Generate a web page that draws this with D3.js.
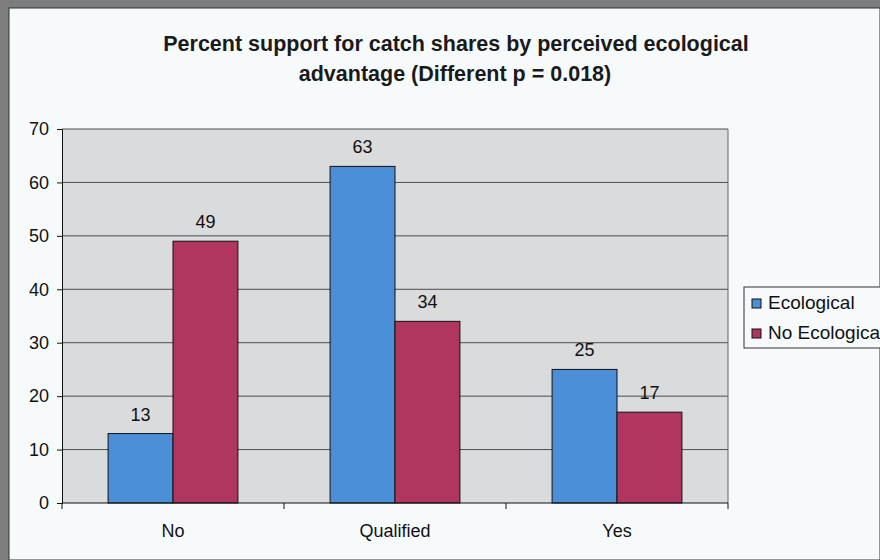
<!DOCTYPE html>
<html>
<head>
<meta charset="utf-8">
<script src="https://cdn.jsdelivr.net/npm/d3@7"></script>
<style>
  body { margin: 0; background: #7d7d7d; }
  svg { display: block; font-family: Arial, "Liberation Sans", sans-serif; }
</style>
</head>
<body>
<div id="chart"></div>
<script>
var categories = ["No", "Qualified", "Yes"];
var seriesNames = ["Ecological", "No Ecological"];
var ecological = [13, 63, 25];
var noEcological = [49, 34, 17];
var yTicks = [0, 10, 20, 30, 40, 50, 60, 70];
var colors = ["#4a8fd8", "#b0365f"];

var W = 880, H = 560;
var margin = {top: 129, left: 62, right: 152, bottom: 57};
var width = W - margin.left - margin.right,
    height = H - margin.top - margin.bottom;

var svg = d3.select("#chart").append("svg")
  .attr("width", W)
  .attr("height", H);

// scanned page look: gray strip top and left, white sheet
svg.append("rect").attr("width", W).attr("height", H).attr("fill", "#7d7d7d");
svg.append("rect")
  .attr("x", 9).attr("y", 8)
  .attr("width", W - 9).attr("height", H - 8)
  .attr("fill", "#f7fafb")
  .attr("stroke", "#333").attr("stroke-width", 1);

svg.append("text")
  .attr("x", 456).attr("y", 51)
  .attr("text-anchor", "middle")
  .attr("font-size", 21.5).attr("font-weight", "bold")
  .attr("fill", "#1a1a1a")
  .text("Percent support for catch shares by perceived ecological");
svg.append("text")
  .attr("x", 455).attr("y", 81)
  .attr("text-anchor", "middle")
  .attr("font-size", 21.5).attr("font-weight", "bold")
  .attr("fill", "#1a1a1a")
  .text("advantage (Different p = 0.018)");

var g = svg.append("g")
  .attr("transform", "translate(" + margin.left + "," + margin.top + ")");

var x = d3.scaleBand()
  .domain(categories)
  .range([0, width]);

var x1 = d3.scaleBand()
  .domain(seriesNames)
  .range([0, x.bandwidth()])
  .paddingInner(0)
  .paddingOuter(0.71);

var y = d3.scaleLinear()
  .domain([0, 70])
  .range([height, 0]);

g.append("rect")
  .attr("width", width).attr("height", height)
  .attr("fill", "#dadbdc");

g.selectAll("line.grid")
  .data(yTicks.slice(1))
  .enter().append("line")
    .attr("class", "grid")
    .attr("x1", 0).attr("x2", width)
    .attr("y1", d => y(d)).attr("y2", d => y(d))
    .attr("stroke", "#4d4d4d").attr("stroke-width", 1);

g.append("line")
  .attr("x1", width).attr("x2", width)
  .attr("y1", 0).attr("y2", height)
  .attr("stroke", "#666").attr("stroke-width", 1);

var data = categories.map(function(c, i) {
  return {cat: c, values: [
    {name: seriesNames[0], v: ecological[i], k: 0},
    {name: seriesNames[1], v: noEcological[i], k: 1}
  ]};
});

var groups = g.selectAll("g.cat")
  .data(data)
  .enter().append("g")
    .attr("class", "cat")
    .attr("transform", d => "translate(" + x(d.cat) + ",0)");

groups.selectAll("rect")
  .data(d => d.values)
  .enter().append("rect")
    .attr("x", d => x1(d.name))
    .attr("y", d => y(d.v))
    .attr("width", x1.bandwidth())
    .attr("height", d => height - y(d.v))
    .attr("fill", d => colors[d.k])
    .attr("stroke", "#111").attr("stroke-width", 1);

groups.selectAll("text")
  .data(d => d.values)
  .enter().append("text")
    .attr("x", d => x1(d.name) + x1.bandwidth() / 2)
    .attr("y", d => y(d.v) - 13)
    .attr("text-anchor", "middle")
    .attr("font-size", 18)
    .attr("fill", "#111")
    .text(d => d.v);

var yAxis = d3.axisLeft(y)
  .tickValues(yTicks)
  .tickSize(5)
  .tickPadding(8);

var yg = g.append("g").call(yAxis);
yg.select(".domain").attr("stroke", "#111");
yg.selectAll(".tick line").attr("stroke", "#111");
yg.selectAll(".tick text").attr("font-size", 18).attr("fill", "#111")
  .attr("font-family", "Arial, 'Liberation Sans', sans-serif");

var xg = g.append("g").attr("transform", "translate(0," + height + ")");
xg.append("line")
  .attr("x1", 0).attr("x2", width)
  .attr("stroke", "#111");
xg.selectAll("line.tick")
  .data(d3.range(categories.length + 1))
  .enter().append("line")
    .attr("class", "tick")
    .attr("x1", d => d * x.step()).attr("x2", d => d * x.step())
    .attr("y1", 0).attr("y2", 6)
    .attr("stroke", "#111");
xg.selectAll("text")
  .data(categories)
  .enter().append("text")
    .attr("x", d => x(d) + x.bandwidth() / 2)
    .attr("y", 34)
    .attr("text-anchor", "middle")
    .attr("font-size", 18)
    .attr("fill", "#111")
    .text(d => d);

// legend
var legend = svg.append("g").attr("transform", "translate(744,287)");
legend.append("rect")
  .attr("width", 160).attr("height", 61)
  .attr("fill", "#f7fafb")
  .attr("stroke", "#333").attr("stroke-width", 1);
seriesNames.forEach(function(name, i) {
  legend.append("rect")
    .attr("x", 8).attr("y", 12 + i * 30)
    .attr("width", 9).attr("height", 9)
    .attr("fill", colors[i])
    .attr("stroke", "#111");
  legend.append("text")
    .attr("x", 24).attr("y", 22 + i * 30)
    .attr("font-size", 19)
    .attr("fill", "#111")
    .text(name);
});
</script>
</body>
</html>
